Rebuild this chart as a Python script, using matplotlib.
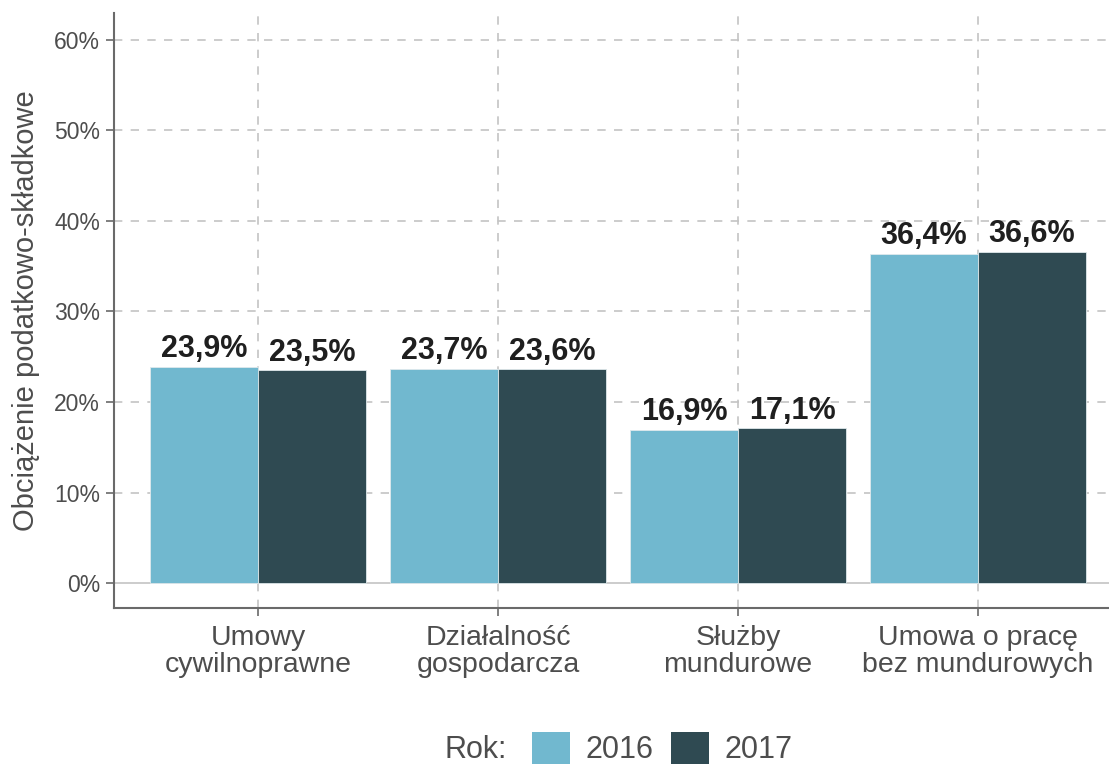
import numpy as np
import matplotlib.pyplot as plt
from matplotlib.patches import Patch

plt.rcParams["font.family"] = ["Liberation Sans", "DejaVu Sans"]

categories = ["Umowy\ncywilnoprawne", "Działalność\ngospodarcza", "Służby\nmundurowe", "Umowa o pracę\nbez mundurowych"]
years = ["2016", "2017"]
values_2016 = [23.9, 23.7, 16.9, 36.4]
values_2017 = [23.5, 23.6, 17.1, 36.6]
yticks = [0, 10, 20, 30, 40, 50, 60]

colors = {"2016": "#71b8cf", "2017": "#2f4a52"}
text_gray = "#4d4d4d"
grid_gray = "#c4c4c4"

fig = plt.figure(figsize=(11.09, 7.67), dpi=100)
ax = fig.add_axes([0.1028, 0.2073, 0.8972, 0.776])

x = np.arange(1, len(categories) + 1)
w = 0.45

ax.set_axisbelow(True)
for yv in yticks[1:]:
    ax.axhline(yv, color=grid_gray, lw=1.2, ls=(0, (5, 5)), zorder=0)
for xv in x:
    ax.axvline(xv, color=grid_gray, lw=1.2, ls=(0, (5, 5)), zorder=0)
ax.axhline(0, color=grid_gray, lw=1.2, zorder=0)

for vals, year, off in [(values_2016, "2016", -w / 2), (values_2017, "2017", w / 2)]:
    bars = ax.bar(x + off, vals, width=w, color=colors[year], edgecolor="#dfe9ec",
                  linewidth=0.6, zorder=2)
    for b, v in zip(bars, vals):
        ax.text(b.get_x() + b.get_width() / 2, v + 0.3, f"{v:.1f}%".replace(".", ","),
                ha="center", va="bottom", fontsize=22, fontweight="bold", color="#1f1f1f")

ax.set_xlim(0.4, 4.546)
ax.set_ylim(-2.76, 63)
ax.set_xticks(x)
ax.set_xticklabels(categories, fontsize=20.5, color=text_gray, linespacing=1.07)
ax.set_yticks(yticks)
ax.set_yticklabels([f"{v}%" for v in yticks], fontsize=16.5, color=text_gray)
ax.tick_params(axis="both", length=6, width=1.2, color="#6a6a6a")
ax.tick_params(axis="x", pad=6)
ax.tick_params(axis="y", pad=4)
ax.set_ylabel("Obciążenie podatkowo-składkowe", fontsize=21, color=text_gray, labelpad=10)

for side in ["top", "right"]:
    ax.spines[side].set_visible(False)
for side in ["left", "bottom"]:
    ax.spines[side].set_color("#6a6a6a")
    ax.spines[side].set_linewidth(1.5)

# legend row at the bottom: "Rok:" label followed by the two year swatches
handles = [Patch(facecolor=colors[y], edgecolor="none") for y in years]
fig.text(0.401, 0.012, "Rok:", fontsize=22, color=text_gray, va="baseline")
fig.legend(handles, years, loc="lower left", bbox_to_anchor=(0.4797, 0.002), ncol=2,
           frameon=False, fontsize=22, labelcolor=text_gray, handlelength=1.24,
           handleheight=1.2, handletextpad=0.5, columnspacing=0.59,
           borderpad=0, borderaxespad=0)

fig.savefig("out.png", dpi=100)
